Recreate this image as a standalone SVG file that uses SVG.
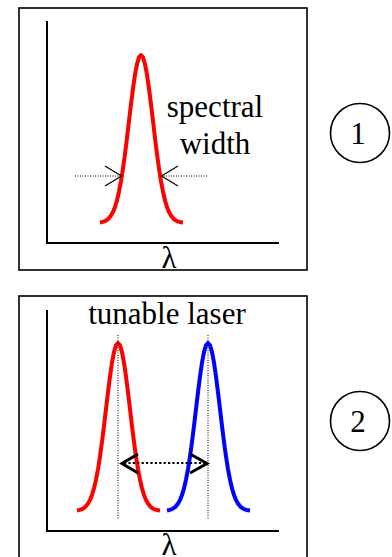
<svg xmlns="http://www.w3.org/2000/svg" xmlns:xlink="http://www.w3.org/1999/xlink" width="392" height="557" viewBox="0 0 392 557">
<style>
.frame{fill:none;stroke:#000;stroke-width:1.6}
.axis{fill:none;stroke:#000;stroke-width:2}
.curve{fill:none;stroke-width:4;stroke-linejoin:round;stroke-linecap:butt}
.txt{font-family:"Liberation Serif","Times New Roman",serif;font-size:31px;fill:#000}
.thin{fill:none;stroke:#000;stroke-width:1.2}
.dotthin{fill:none;stroke:#000;stroke-width:1;stroke-dasharray:1 1.5}
.dotthick{fill:none;stroke:#000;stroke-width:2.2;stroke-dasharray:2.2 2.2}
.head{fill:none;stroke:#000;stroke-width:3;stroke-linejoin:miter}
</style>
<defs>
<path id="gauss" d="M -41 167.5 L -40 167.3 L -36 166.1 L -33 164.2 L -30 160.6 L -28 157 L -26 151.9 L -24 145.3 L -22 136.7 L -20 126.1 L -18 113.5 L -16 98.9 L -14 82.9 L -12 66.1 L -10 49.3 L -8 33.5 L -6 19.7 L -4 9.1 L -2 2.4 L 0 0 L 2 2.4 L 4 9.1 L 6 19.7 L 8 33.5 L 10 49.3 L 12 66.1 L 14 82.9 L 16 98.9 L 18 113.5 L 20 126.1 L 22 136.7 L 24 145.3 L 26 151.9 L 28 157 L 30 160.6 L 33 164.2 L 36 166.1 L 40 167.3 L 42 167.5"/>
</defs>

<g id="panel1">
<rect class="frame" x="19" y="8" width="288" height="262"/>
<path class="axis" d="M47 21 V243 H279"/>
<use xlink:href="#gauss" href="#gauss" x="141" y="55" class="curve" stroke="#ff0000"/>
<text class="txt" x="215" y="117" text-anchor="middle">spectral</text>
<text class="txt" x="215" y="154" text-anchor="middle">width</text>
<text class="txt" x="169" y="268" text-anchor="middle">λ</text>
</g>

<g id="panel2">
<rect class="frame" x="19" y="296" width="288" height="264"/>
<path class="axis" d="M47 310 V531 H279"/>
<use xlink:href="#gauss" href="#gauss" x="118" y="343" class="curve" stroke="#ff0000"/>
<use xlink:href="#gauss" href="#gauss" x="208" y="343" class="curve" stroke="#0000ff"/>
<text class="txt" x="167" y="324" text-anchor="middle">tunable laser</text>
<text class="txt" x="169" y="555" text-anchor="middle">λ</text>
</g>

<g id="label1">
<circle class="frame" cx="360" cy="133" r="29.5"/>
<text class="txt" x="358" y="144" text-anchor="middle">1</text>
</g>

<g id="label2">
<circle class="frame" cx="360" cy="421" r="29.5"/>
<text class="txt" x="358" y="432" text-anchor="middle">2</text>
</g>

<g id="connectors">
<line class="dotthin" x1="75" y1="176" x2="121" y2="176"/>
<path class="thin" d="M105 166 L121.5 176 L105 186"/>
<line class="dotthin" x1="161" y1="176" x2="208" y2="176"/>
<path class="thin" d="M178 166 L161.5 176 L178 186"/>
<line class="dotthin" x1="118" y1="335" x2="118" y2="519"/>
<line class="dotthin" x1="208" y1="335" x2="208" y2="519"/>
<line class="dotthick" x1="124" y1="463" x2="205" y2="463"/>
<path class="head" d="M138 454 L122 463.5 L138 473"/>
<path class="head" d="M190 454 L207 463.5 L190 473"/>
</g>
</svg>
